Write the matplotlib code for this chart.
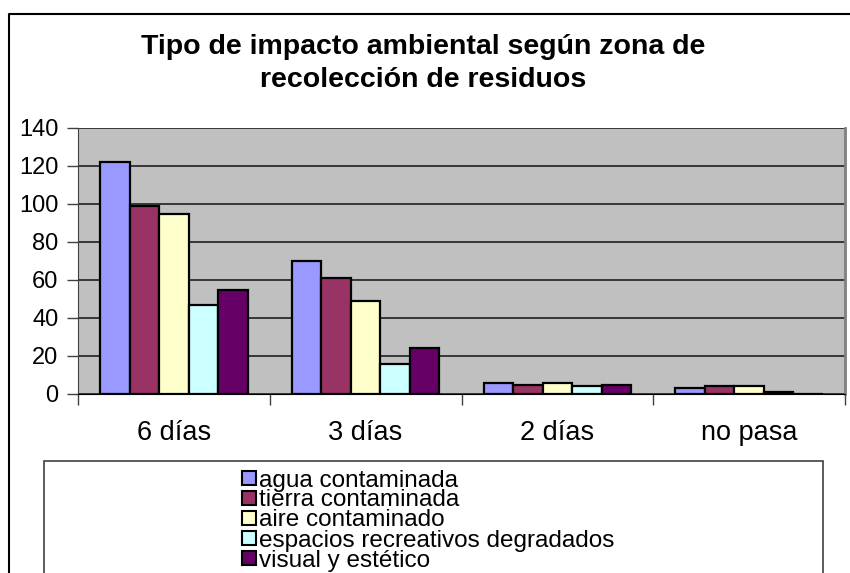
import matplotlib
matplotlib.use('Agg')
import matplotlib.pyplot as plt
from matplotlib.lines import Line2D
from matplotlib.patches import Rectangle
import numpy as np

plt.rcParams['font.family'] = ['Liberation Sans', 'DejaVu Sans']

# datos
zonas = ['6 días', '3 días', '2 días', 'no pasa']
series = ['agua contaminada', 'tierra contaminada', 'aire contaminado',
          'espacios recreativos degradados', 'visual y estético']
agua = [122, 70, 6, 3]
tierra = [99, 61, 5, 4]
aire = [95, 49, 6, 4]
espacios = [47, 16, 4, 1]
visual = [55, 24, 5, 0]
colores = ['#9999FF', '#993366', '#FFFFCC', '#CCFFFF', '#660066']
yticks = [0, 20, 40, 60, 80, 100, 120, 140]

W, H = 850, 573
fig = plt.figure(figsize=(W / 100, H / 100), dpi=100)


def fx(px):
    return px / W


def fy(py):
    return 1 - py / H


# marco exterior del grafico
fig.add_artist(Line2D([fx(9), fx(9), 1.01], [-0.01, fy(14), fy(14)],
                      transform=fig.transFigure, color='black', lw=1.5))

ax = fig.add_axes([fx(78), fy(394), fx(845) - fx(78), fy(128) - fy(394)])
ax.set_facecolor('#C0C0C0')

valores = [agua, tierra, aire, espacios, visual]
n = len(series)
ancho = 1 / (n + 1.5)
x = np.arange(len(zonas))
for i, (vals, col) in enumerate(zip(valores, colores)):
    pos = x + (i - (n - 1) / 2) * ancho
    ax.bar(pos, vals, width=ancho, color=col, edgecolor='black', linewidth=1.6, zorder=3)

ax.set_xlim(-0.5, len(zonas) - 0.5)
ax.set_ylim(0, 140)
ax.set_yticks(yticks)
ax.set_yticklabels([str(v) for v in yticks], fontsize=17)
ax.yaxis.grid(True, color='#202020', lw=1.2, zorder=1)

# ticks de categoria en los limites
ax.set_xticks(np.arange(len(zonas) + 1) - 0.5)
ax.set_xticklabels([])
ax.set_xticks(x, minor=True)
ax.set_xticklabels(zonas, minor=True, fontsize=19.5)
ax.tick_params(axis='x', which='minor', length=0, pad=19)
ax.tick_params(axis='x', which='major', length=8, width=1, color='#404040')
ax.tick_params(axis='y', length=8, width=1, color='#404040', pad=6)

ax.spines['top'].set_visible(False)
ax.spines['left'].set_color('#404040')
ax.spines['bottom'].set_color('black')
ax.spines['right'].set_color('#808080')
ax.spines['right'].set_linewidth(2)

# titulo
fig.text(fx(423), fy(47), 'Tipo de impacto ambiental según zona de',
         ha='center', va='center', fontsize=20.5, fontweight='bold')
fig.text(fx(423), fy(80), 'recolección de residuos',
         ha='center', va='center', fontsize=20.5, fontweight='bold')

# leyenda
fig.add_artist(Rectangle((fx(44), -0.02), fx(823) - fx(44), fy(461) + 0.02,
                         transform=fig.transFigure, facecolor='white',
                         edgecolor='#404040', lw=1.2))
for i, (nombre, col) in enumerate(zip(series, colores)):
    ytop = 471 + 20 * i
    fig.add_artist(Rectangle((fx(242), fy(ytop + 14)), fx(14), 14 / H,
                             transform=fig.transFigure, facecolor=col,
                             edgecolor='black', lw=1.5))
    fig.text(fx(259), fy(ytop + 7), nombre, ha='left', va='center_baseline',
             fontsize=17.5)

fig.savefig('out.png', dpi=100)
